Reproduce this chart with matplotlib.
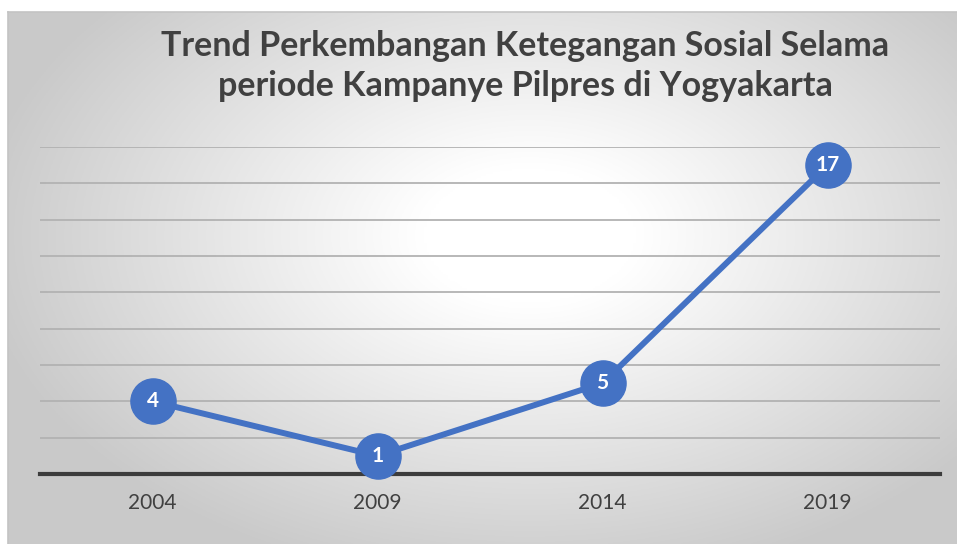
import numpy as np
import matplotlib.pyplot as plt

years = ['2004', '2009', '2014', '2019']
tension = [4, 1, 5, 17]
title = 'Trend Perkembangan Ketegangan Sosial Selama\nperiode Kampanye Pilpres di Yogyakarta'

plt.rcParams['font.family'] = ['Lato', 'DejaVu Sans']

fig = plt.figure(figsize=(9.57, 5.44), dpi=100)

# radial grey gradient background of the chart box
bg = fig.add_axes([8 / 957, 0, 1 - 8 / 957, 1 - 12 / 544])
gx, gy = np.meshgrid(np.linspace(0, 1, 400), np.linspace(0, 1, 300))
r = np.sqrt(((gx - 0.55) / 0.75) ** 2 + ((gy - 0.42) / 0.85) ** 2)
shade = 1 - 0.2 * np.clip(r - 0.15, 0, 1) / 0.6
shade = np.clip(shade, 0.79, 1)
bg.imshow(np.dstack([shade] * 3), extent=[0, 1, 0, 1], aspect='auto', origin='upper')
bg.set_xticks([])
bg.set_yticks([])
for side in ['right', 'bottom']:
    bg.spines[side].set_visible(False)
for side in ['left', 'top']:
    bg.spines[side].set_color('#c4c4c4')
    bg.spines[side].set_linewidth(1.2)

ax = fig.add_axes([40 / 957, 70 / 544, 900 / 957, 327 / 544])
ax.patch.set_alpha(0)
xs = np.arange(len(years))
ax.plot(xs, tension, color='#4472C4', linewidth=4.3, marker='o', markersize=32.5,
        markerfacecolor='#4472C4', markeredgecolor='#4472C4', clip_on=False, zorder=3)
for x, v in zip(xs, tension):
    ax.text(x, v, str(v), ha='center', va='center', color='white',
            fontsize=15, fontweight='bold', zorder=4)

ax.set_xlim(-0.5, 3.5)
ax.set_ylim(0, 18)
ax.set_yticks(np.arange(2, 19, 2))
ax.yaxis.grid(True, color='#b2b2b2', linewidth=1.3)
ax.tick_params(axis='y', left=False, labelleft=False)
ax.set_xticks(xs)
ax.set_xticklabels(years, fontsize=15, color='#404040')
ax.tick_params(axis='x', length=0, pad=14)
for side in ['left', 'right', 'top']:
    ax.spines[side].set_visible(False)
ax.spines['bottom'].set_color('#3c3c3c')
ax.spines['bottom'].set_linewidth(3)
ax.set_axisbelow(True)

fig.text(525 / 957, 1 - 66 / 544, title, ha='center', va='center', fontsize=24.5,
         fontweight='bold', color='#404040', linespacing=1.3)

fig.savefig('out.png', dpi=100)
